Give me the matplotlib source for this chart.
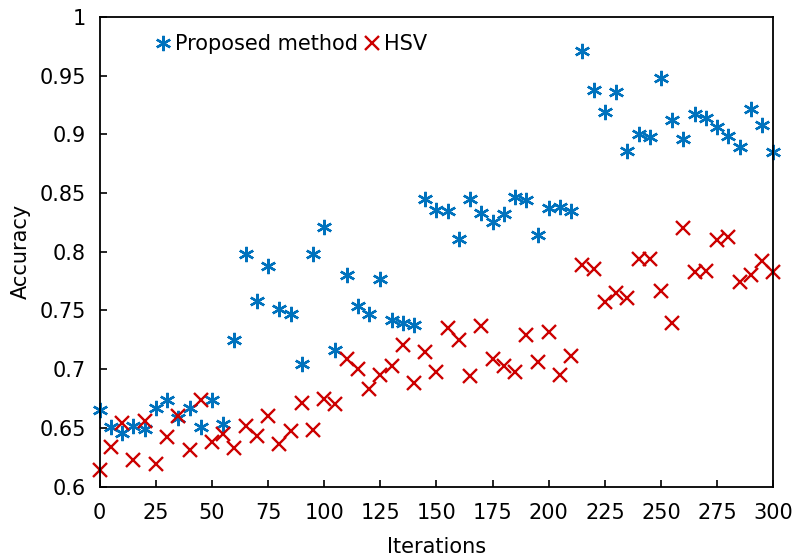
import numpy as np
import matplotlib
matplotlib.use("Agg")
import matplotlib.pyplot as plt

# accuracy vs iterations
iterations = list(range(0, 301, 5))

proposed = [0.665, 0.651, 0.646, 0.652, 0.649, 0.667, 0.674, 0.658, 0.667, 0.651,
            0.674, 0.653, 0.725, 0.798, 0.758, 0.788, 0.751, 0.747, 0.704, 0.798,
            0.821, 0.716, 0.780, 0.754, 0.747, 0.777, 0.742, 0.739, 0.738, 0.845,
            0.836, 0.835, 0.811, 0.845, 0.833, 0.825, 0.832, 0.847, 0.844, 0.814,
            0.837, 0.838, 0.835, 0.971, 0.938, 0.919, 0.936, 0.886, 0.900, 0.898,
            0.948, 0.912, 0.896, 0.917, 0.914, 0.906, 0.899, 0.889, 0.922, 0.908,
            0.885]

hsv = [0.614, 0.634, 0.654, 0.623, 0.656, 0.619, 0.642, 0.660, 0.631, 0.674,
       0.638, 0.645, 0.633, 0.652, 0.643, 0.660, 0.636, 0.647, 0.671, 0.648,
       0.675, 0.670, 0.709, 0.700, 0.683, 0.695, 0.703, 0.721, 0.688, 0.715,
       0.698, 0.735, 0.725, 0.694, 0.737, 0.709, 0.703, 0.698, 0.729, 0.706,
       0.732, 0.695, 0.711, 0.789, 0.785, 0.757, 0.765, 0.761, 0.794, 0.794,
       0.767, 0.739, 0.820, 0.783, 0.784, 0.810, 0.813, 0.774, 0.780, 0.792,
       0.783]

xticks = list(range(0, 301, 25))
yticks = [0.6, 0.65, 0.7, 0.75, 0.8, 0.85, 0.9, 0.95, 1]
ytick_labels = ['0.6', '0.65', '0.7', '0.75', '0.8', '0.85', '0.9', '0.95', '1']

blue = '#0072BD'
red = '#CC0000'

plt.rcParams['font.family'] = ['DejaVu Sans']
plt.rcParams['font.size'] = 15

fig = plt.figure(figsize=(7.95, 5.58), dpi=100)
ax = fig.add_axes([0.1254, 0.128, 0.8473, 0.8415])

ax.plot(iterations, proposed, linestyle='none', marker=(6, 2, 0), markersize=11,
        markeredgewidth=1.7, color=blue, label='Proposed method', clip_on=False)
ax.plot(iterations, hsv, linestyle='none', marker='x', markersize=10,
        markeredgewidth=1.7, color=red, label='HSV', clip_on=False)

ax.set_xlim(0, 300)
ax.set_ylim(0.6, 1)
ax.set_xticks(xticks)
ax.set_yticks(yticks)
ax.set_yticklabels(ytick_labels)
ax.tick_params(direction='in', length=5, width=1.2, top=False, right=False)
ax.tick_params(axis='x', pad=12)
ax.tick_params(axis='y', pad=10)
for s in ax.spines.values():
    s.set_linewidth(1.3)

ax.set_xlabel('Iterations', labelpad=10)
ax.set_ylabel('Accuracy', labelpad=6)

ax.legend(loc='upper left', bbox_to_anchor=(0.052, 1.004), ncol=2, frameon=False,
          handletextpad=0.15, columnspacing=0.2, handlelength=0.9)

fig.savefig('out.png', dpi=100)
